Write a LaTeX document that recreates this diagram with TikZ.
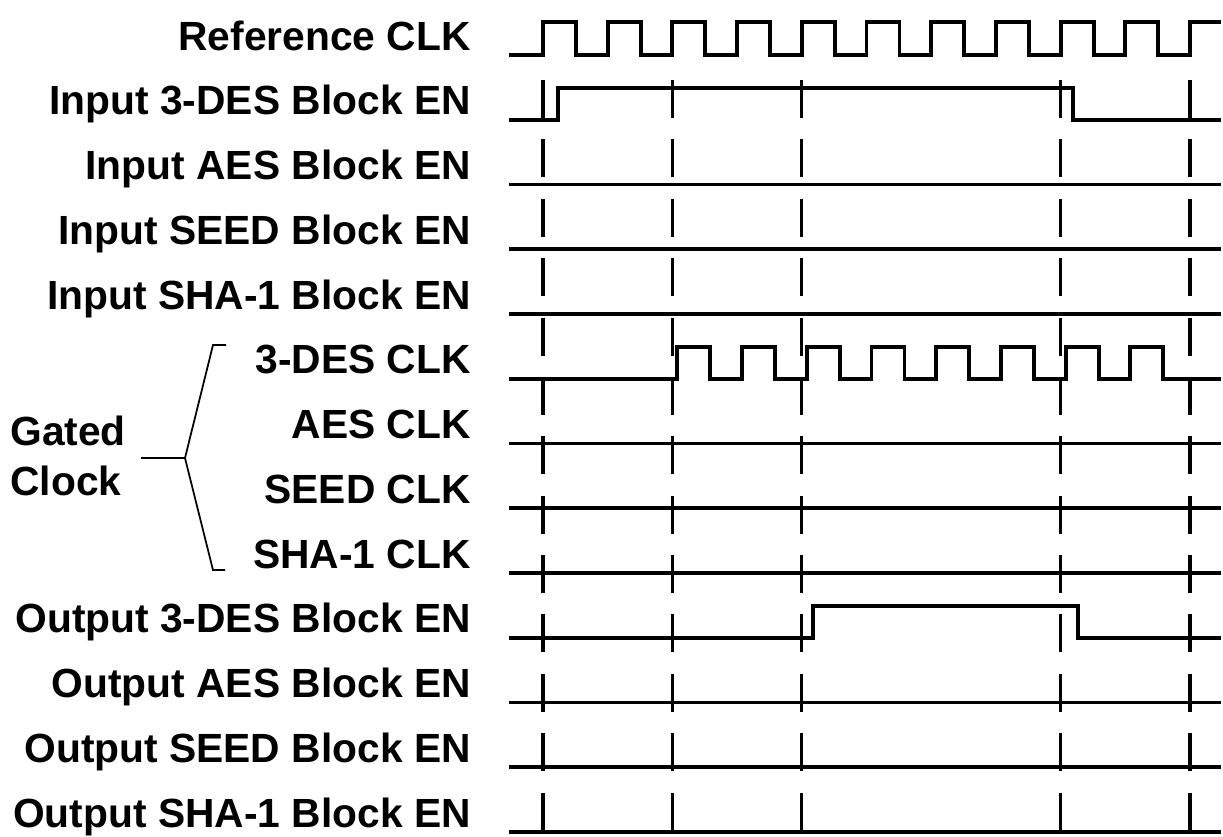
\documentclass[tikz,border=0pt]{standalone}
\usepackage{fontspec}
\setmainfont{Liberation Sans}
\usepackage{tikz}
\usetikzlibrary{positioning, calc}

\begin{document}
\begin{tikzpicture}[x=0.02cm, y=-0.02cm,
    lbl/.style={anchor=base east, inner sep=0pt, font=\fontsize{23.2}{28.5}\selectfont\bfseries},
    wave/.style={line width=2.2pt, line join=miter, black},
    guide/.style={line width=1.8pt, black, dash pattern=on 21.6pt off 12.2pt},
    brace/.style={line width=1pt, black}]
  \useasboundingbox (0,0) rectangle (1223,836);
  % Signal labels (row i has its low level at 55+64.75*i)
  \foreach \i/\txt in {0/Reference CLK, 1/Input 3-DES Block EN, 2/Input AES Block EN,
      3/Input SEED Block EN, 4/Input SHA-1 Block EN, 5/3-DES CLK, 6/AES CLK,
      7/SEED CLK, 8/SHA-1 CLK, 9/Output 3-DES Block EN, 10/Output AES Block EN,
      11/Output SEED Block EN, 12/Output SHA-1 Block EN} {
    \node[lbl] (sig\i) at (471,{55+64.75*\i-5}) {\txt};
  }
  % Gated clock group
  \node[anchor=west, inner sep=0pt, align=left,
        font=\fontsize{23.2}{28.5}\selectfont\bfseries] (gated) at (10,456) {Gated\\Clock};
  \coordinate (fork) at (185,458);
  \draw[brace] (fork -| gated.east) ++(15,0) -- (fork);
  \draw[brace] (226,345) -- (213,345) -- (fork) -- (213,570) -- (225,570);
  % Dashed guides at reference clock edges
  \foreach \k in {0,2,4,8,10} {
    \draw[guide] ({543+64.7*\k},80) -- ({543+64.7*\k},832);
  }
  % Reference clock
  \draw[wave] (509,55) \foreach \k in {0,...,9} {
      -- ({543+64.7*\k},55) -- ++(0,-33) -- ++(33,0) -- ++(0,33) }
    -- (1190,55) -- (1190,22) -- (1221,22);
  % Input 3-DES enable
  \draw[wave] (509,119.75) -- (558,119.75) -- (558,87.75) -- (1073,87.75)
    -- (1073,119.75) -- (1221,119.75);
  % Gated 3-DES clock
  \draw[wave] (509,378.75) \foreach \k in {2,...,9} {
      -- ({548+64.7*\k},378.75) -- ++(0,-32) -- ++(33,0) -- ++(0,32) }
    -- (1221,378.75);
  % Output 3-DES enable
  \draw[wave] (509,637.75) -- (813,637.75) -- (813,605.75) -- (1078,605.75)
    -- (1078,637.75) -- (1221,637.75);
  % Idle rows
  \foreach \i in {2,3,4,6,7,8,10,11,12} {
    \draw[wave] (509,{55+64.75*\i}) -- (1221,{55+64.75*\i});
  }
\end{tikzpicture}
\end{document}
